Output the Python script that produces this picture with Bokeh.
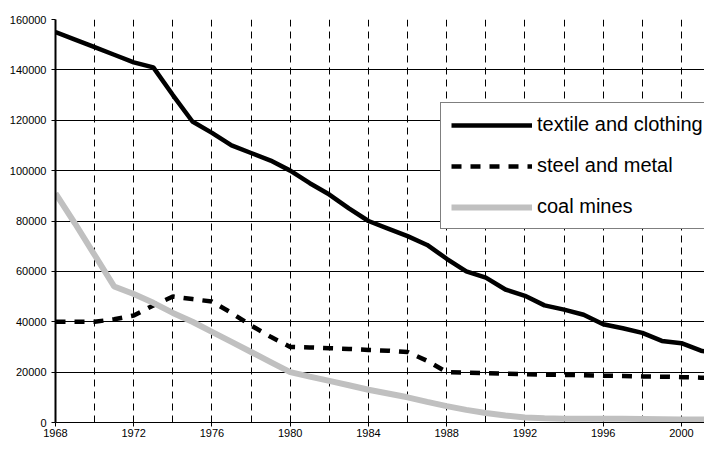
from bokeh.plotting import figure
from bokeh.models import Range1d, SingleIntervalTicker, Legend, LegendItem, NumeralTickFormatter
from bokeh.embed import file_html
from bokeh.resources import INLINE

years = list(range(1968, 2003))
textile = [155000, 152000, 149000, 146000, 143000, 141000, 130000, 119500, 115000, 110000,
           107000, 104000, 100000, 95000, 90500, 85000, 80000, 77000, 74000, 70500,
           65000, 60000, 57500, 52800, 50300, 46500, 44800, 42800, 39000, 37400,
           35600, 32400, 31500, 28500, 27000]
steel = [40000, 40000, 40000, 41000, 42500, 46500, 50000, 49000, 48000, 43500,
         38500, 34000, 30000, 29800, 29500, 29200, 28800, 28500, 28000, 24500,
         20000, 19800, 19600, 19400, 19200, 19000, 18900, 18800, 18600, 18500,
         18300, 18200, 18000, 17800, 17600]
coal = [91000, 79000, 66500, 54000, 51000, 47500, 43500, 40000, 36000, 32000,
        28000, 24000, 20000, 18200, 16500, 14800, 13000, 11500, 10000, 8200,
        6500, 5000, 3800, 2800, 2000, 1700, 1500, 1500, 1500, 1500,
        1400, 1300, 1200, 1200, 1200]
labels = ["textile and clothing", "steel and metal", "coal mines"]

FONT = "Liberation Sans"

p = figure(width=704, height=441, output_backend="svg", toolbar_location=None,
           x_range=Range1d(1968, 2001.18), y_range=Range1d(0, 160000),
           min_border_left=55, min_border_right=0, min_border_top=19, min_border_bottom=19)
p.outline_line_color = None
p.background_fill_color = "white"

r_text = p.line(years, textile, line_color="black", line_width=4.5)
r_steel = p.line(years, steel, line_color="black", line_width=4.5, line_dash="10 9")
r_coal = p.line(years, coal, line_color="#c0c0c0", line_width=6)

p.xaxis.ticker = SingleIntervalTicker(interval=4)
p.xgrid.ticker = SingleIntervalTicker(interval=2)
p.xgrid.grid_line_color = "black"
p.xgrid.grid_line_dash = "7 5"
p.xgrid.grid_line_width = 1
p.yaxis.ticker = SingleIntervalTicker(interval=20000)
p.yaxis.formatter = NumeralTickFormatter(format="0")
p.ygrid.grid_line_color = "black"
p.ygrid.grid_line_width = 1

for ax in (p.xaxis, p.yaxis):
    ax.major_label_text_font = FONT
    ax.major_label_text_font_size = "11px"
    ax.major_label_text_color = "black"
    ax.axis_line_color = "black"
    ax.major_tick_line_color = "black"
    ax.minor_tick_line_color = None
    ax.major_tick_in = 0
p.xaxis.major_tick_out = 4
p.xaxis.major_label_standoff = 2
p.xaxis.axis_line_width = 1
p.yaxis.major_tick_out = 4
p.yaxis.major_label_standoff = 5
p.yaxis.axis_line_width = 2

legend = Legend(items=[LegendItem(label=labels[0], renderers=[r_text]),
                       LegendItem(label=labels[1], renderers=[r_steel]),
                       LegendItem(label=labels[2], renderers=[r_coal])],
                location=(385, 193))
legend.label_text_font = FONT
legend.label_text_font_size = "20px"
legend.label_text_color = "black"
legend.glyph_width = 81
legend.glyph_height = 20
legend.label_height = 20
legend.spacing = 18
legend.padding = 10
legend.margin = 0
legend.label_standoff = 5
legend.border_line_color = "black"
legend.border_line_width = 1
legend.background_fill_color = "white"
legend.background_fill_alpha = 1
p.add_layout(legend)

open("out.html", "w").write(file_html(p, INLINE))
